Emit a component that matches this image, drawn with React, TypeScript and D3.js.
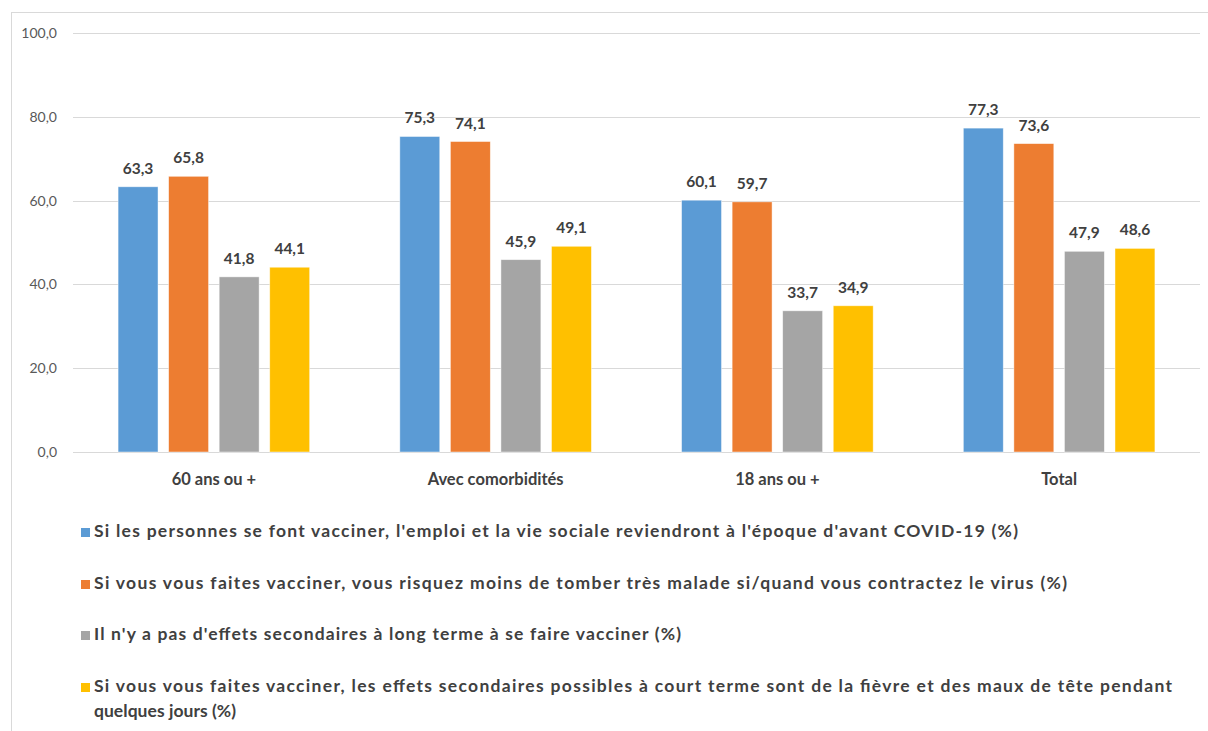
import React from "react";
import * as d3 from "d3";

const categories = ["60 ans ou +", "Avec comorbidités", "18 ans ou +", "Total"];
const seriesNames = [
  "Si les personnes se font vacciner, l'emploi et la vie sociale reviendront à l'époque d'avant COVID-19 (%)",
  "Si vous vous faites vacciner, vous risquez moins de tomber très malade si/quand vous contractez le virus (%)",
  "Il n'y a pas d'effets secondaires à long terme à se faire vacciner (%)",
  "Si vous vous faites vacciner, les effets secondaires possibles à court terme sont de la fièvre et des maux de tête pendant|quelques jours (%)",
];
const seriesColors = ["#5B9BD5", "#ED7D31", "#A5A5A5", "#FFC000"];
const emploiValues = [63.3, 75.3, 60.1, 77.3];
const maladeValues = [65.8, 74.1, 59.7, 73.6];
const longTermeValues = [41.8, 45.9, 33.7, 47.9];
const courtTermeValues = [44.1, 49.1, 34.9, 48.6];
const seriesValues = [emploiValues, maladeValues, longTermeValues, courtTermeValues];
const yTicks = [0, 20, 40, 60, 80, 100];

const W = 1208;
const H = 731;
const FONT = "Lato, 'Noto Sans', sans-serif";
const fmt = (v: number) => v.toFixed(1).replace(".", ",");

export default function App() {
  const left = 73;
  const right = 1200;
  const top = 33;
  const bottom = 452;

  const x0 = d3
    .scaleBand<string>()
    .domain(categories)
    .range([left, right])
    .paddingInner(0.32)
    .paddingOuter(0.16);
  const x1 = d3
    .scaleBand<number>()
    .domain(d3.range(seriesValues.length))
    .range([0, x0.bandwidth()])
    .paddingInner(0.21);
  const y = d3.scaleLinear().domain([0, 100]).range([bottom, top]);

  const legendY = [537, 589, 640, 692];
  // width of each legend line (the wrapped continuation line last)
  const legendWidths = [924, 973, 587, 1078, 142];

  return (
    <svg
      width={W}
      height={H}
      style={{ position: "absolute", left: 0, top: 0, background: "#fff" }}
      fontFamily={FONT}
    >
      <rect x={0} y={0} width={W} height={H} fill="#fff" />
      <rect x={11.5} y={12.5} width={1210} height={740} fill="none" stroke="#d9d9d9" />

      {yTicks.map((t) => (
        <g key={t}>
          <line x1={left} x2={right} y1={Math.round(y(t)) + 0.5} y2={Math.round(y(t)) + 0.5} stroke="#d9d9d9" strokeWidth={1} />
          <text x={57} y={y(t) + 5} textAnchor="end" fontSize={14} fill="#595959">
            {fmt(t)}
          </text>
        </g>
      ))}

      {categories.map((c, ci) => (
        <g key={c} transform={`translate(${x0(c)},0)`}>
          {seriesValues.map((vals, si) => {
            const v = vals[ci];
            const bx = x1(si)!;
            const bw = x1.bandwidth();
            return (
              <g key={si}>
                <rect
                  x={bx}
                  y={y(v)}
                  width={bw}
                  height={y(0) - y(v)}
                  fill={seriesColors[si]}
                  stroke="#fff"
                  strokeOpacity={0.6}
                  strokeWidth={0.75}
                />
                <text
                  x={bx + bw / 2}
                  y={y(v) - 13}
                  textAnchor="middle"
                  fontSize={15.5}
                  fontWeight={700}
                  fill="#404040"
                >
                  {fmt(v)}
                </text>
              </g>
            );
          })}
          <text
            x={x0.bandwidth() / 2}
            y={485}
            textAnchor="middle"
            fontSize={16.5}
            fontWeight={700}
            fill="#404040"
          >
            {c}
          </text>
        </g>
      ))}

      {seriesNames.map((name, si) => {
        const lines = name.split("|");
        return (
          <g key={si}>
            <rect x={81} y={legendY[si] - 9} width={9} height={9} fill={seriesColors[si]} />
            {lines.map((ln, li) => (
              <text
                key={li}
                x={94}
                y={legendY[si] + li * 25}
                fontSize={17.5}
                fontWeight={700}
                fill="#404040"
                textLength={legendWidths[si + li]}
                lengthAdjust="spacing"
              >
                {ln}
              </text>
            ))}
          </g>
        );
      })}
    </svg>
  );
}
